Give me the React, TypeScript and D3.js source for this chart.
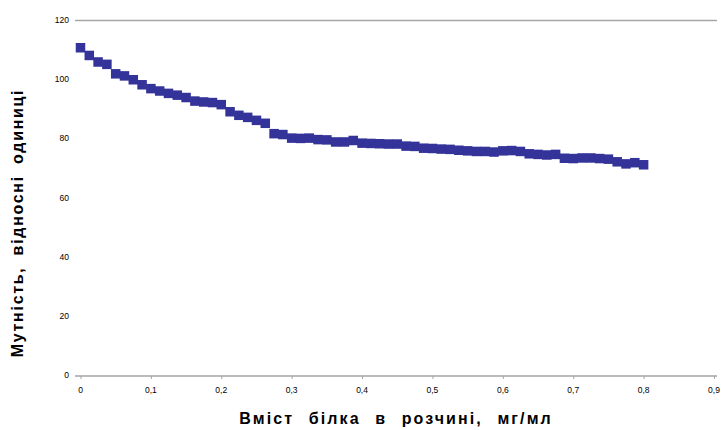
import { useEffect, useRef } from "react";
import * as d3 from "d3";

const width = 721;
const height = 430;

// protein content, mg/ml
const concentration = [
  0, 0.0125, 0.025, 0.0375, 0.05, 0.0625, 0.075, 0.0875, 0.1, 0.1125, 0.125,
  0.1375, 0.15, 0.1625, 0.175, 0.1875, 0.2, 0.2125, 0.225, 0.2375, 0.25,
  0.2625, 0.275, 0.2875, 0.3, 0.3125, 0.325, 0.3375, 0.35, 0.3625, 0.375,
  0.3875, 0.4, 0.4125, 0.425, 0.4375, 0.45, 0.4625, 0.475, 0.4875, 0.5,
  0.5125, 0.525, 0.5375, 0.55, 0.5625, 0.575, 0.5875, 0.6, 0.6125, 0.625,
  0.6375, 0.65, 0.6625, 0.675, 0.6875, 0.7, 0.7125, 0.725, 0.7375, 0.75,
  0.7625, 0.775, 0.7875, 0.8,
];

// turbidity, relative units
const turbidity = [
  110.8, 108.2, 106, 105.2, 102, 101.3, 100, 98.3, 97, 96.2, 95.4, 94.8, 94,
  92.8, 92.5, 92.3, 91.6, 89.2, 88, 87.3, 86.3, 85.3, 81.8, 81.5, 80.3, 80.2,
  80.3, 79.8, 79.7, 79, 79, 79.5, 78.6, 78.5, 78.4, 78.3, 78.3, 77.6, 77.5,
  76.9, 76.8, 76.6, 76.5, 76.2, 76, 75.8, 75.8, 75.6, 76, 76.1, 75.8, 75,
  74.8, 74.6, 74.8, 73.5, 73.4, 73.6, 73.6, 73.4, 73.2, 72.3, 71.6, 72, 71.3,
];

const xTicks = [0, 0.1, 0.2, 0.3, 0.4, 0.5, 0.6, 0.7, 0.8, 0.9];
const yTicks = [0, 20, 40, 60, 80, 100, 120];

const xScale = d3.scaleLinear().domain([0, 0.9]).range([80.5, 714]);
const yScale = d3.scaleLinear().domain([0, 120]).range([376, 20.5]);

const fmtX = (d: number) => (d === 0 ? "0" : d.toFixed(1).replace(".", ","));

const markerSize = 9.5;
const font = "Liberation Sans, Arial, sans-serif";

export default function App() {
  const xAxisRef = useRef<SVGGElement>(null);

  useEffect(() => {
    document.body.style.margin = "0";
    const axis = d3
      .axisBottom(xScale)
      .tickValues(xTicks)
      .tickSize(3)
      .tickSizeOuter(0)
      .tickFormat(() => "");
    const g = d3.select(xAxisRef.current).call(axis as any);
    g.select(".domain").remove();
    g.selectAll(".tick line").attr("stroke", "#a6a6a6");
  }, []);

  return (
    <svg width={width} height={height} style={{ display: "block" }}>
      <rect width={width} height={height} fill="#fff" />
      {/* top gridline and bottom axis line */}
      <line x1={75} x2={717} y1={yScale(120)} y2={yScale(120)} stroke="#a6a6a6" strokeWidth={1.5} />
      <line x1={75} x2={717} y1={yScale(0)} y2={yScale(0)} stroke="#a6a6a6" strokeWidth={1.5} />
      <g ref={xAxisRef} transform={`translate(0,${yScale(0)})`} />

      <g fontFamily={font} fontSize={8.5} fill="#000">
        {yTicks.map((t) => (
          <text key={t} x={69} y={yScale(t)} textAnchor="end" dominantBaseline="middle">
            {t}
          </text>
        ))}
        {xTicks.map((t) => (
          <text key={t} x={xScale(t)} y={391} textAnchor="middle" dominantBaseline="middle">
            {fmtX(t)}
          </text>
        ))}
      </g>

      <g fill="#333399">
        {concentration.map((c, i) => (
          <rect
            key={i}
            x={xScale(c) - markerSize / 2}
            y={yScale(turbidity[i]) - markerSize / 2}
            width={markerSize}
            height={markerSize}
          />
        ))}
      </g>

      <text
        x={396}
        y={424}
        textAnchor="middle"
        fontFamily={font}
        fontWeight="bold"
        fontSize={16}
        letterSpacing={2.1}
        wordSpacing={8}
      >
        Вміст білка в розчині, мг/мл
      </text>
      <text
        transform={`translate(23,223) rotate(-90)`}
        textAnchor="middle"
        fontFamily={font}
        fontWeight="bold"
        fontSize={16}
        letterSpacing={1.7}
        wordSpacing={5}
      >
        Мутність, відносні одиниці
      </text>
    </svg>
  );
}
